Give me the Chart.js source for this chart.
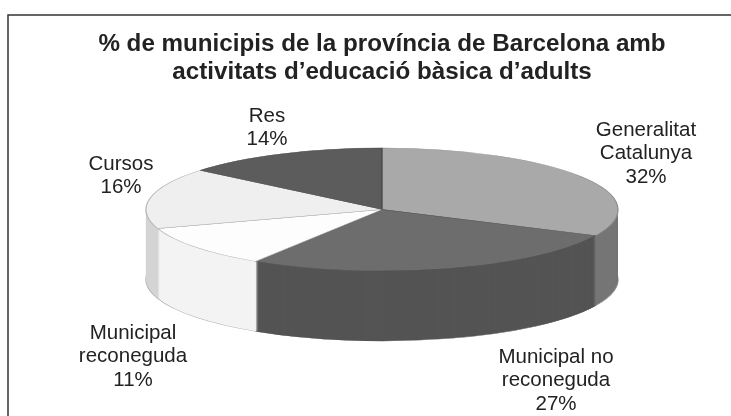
<!DOCTYPE html>
<html>
<head>
<meta charset="utf-8">
<style>
  html, body { margin: 0; padding: 0; background: #fff; }
  #wrap { position: relative; width: 731px; height: 416px; overflow: hidden; }
  /* the source is a soft scan */
  canvas { filter: blur(0.45px); }
</style>
</head>
<body>
<div id="wrap"><canvas id="chart" width="731" height="416"></canvas></div>
<script src="https://cdn.jsdelivr.net/npm/chart.js@4"></script>
<script>
const categories = ['Generalitat Catalunya', 'Municipal no reconeguda', 'Municipal reconeguda', 'Cursos', 'Res'];
const values = [32, 27, 11, 16, 14];
const topColors = ['#a9a9a9', '#6d6d6d', '#fdfdfd', '#efefef', '#5c5c5c'];
const sideColors = ['#757575', '#545454', '#f3f3f3', '#d4d4d4', '#4a4a4a'];
const edgeColors = ['#8f8f8f', '#4f4f4f', '#a8a8a8', '#b4b4b4', '#474747'];
const labelLines = [['Generalitat', 'Catalunya'], ['Municipal no', 'reconeguda'], ['Municipal', 'reconeguda'], ['Cursos'], ['Res']];
const labelAnchors = [[646, 130], [556, 357], [133, 333], [121, 164], [267, 116]];

const RX = 236, RY = 61.5, DEPTH = 70, CY = 209.5;

// squash the pie into an ellipse and stack it to get the 3d look
const pie3d = {
  id: 'pie3d',
  beforeDatasetsDraw(chart) {
    const ctx = chart.ctx;
    const arcs = chart.getDatasetMeta(0).data;
    const layer = (dy, colors, border) => {
      ctx.save();
      ctx.translate(0, CY + dy);
      ctx.scale(1, RY / RX);
      ctx.translate(0, -arcs[0].y);
      arcs.forEach((arc, i) => {
        const saved = arc.options;
        arc.options = {...saved, backgroundColor: colors[i], borderWidth: border ? 1.2 : 0, borderColor: edgeColors[i]};
        arc.draw(ctx);
        arc.options = saved;
      });
      ctx.restore();
    };
    layer(DEPTH, sideColors, true);
    for (let d = DEPTH - 1; d > 0; d--) layer(d, sideColors, false);
    layer(0, topColors, true);
    return false;
  }
};

const sliceLabels = {
  id: 'sliceLabels',
  afterDraw(chart) {
    const ctx = chart.ctx;
    ctx.save();
    ctx.font = '20.5px "Liberation Sans"';
    ctx.fillStyle = '#222';
    ctx.textAlign = 'center';
    ctx.textBaseline = 'middle';
    labelLines.forEach((lines, i) => {
      const [x, y] = labelAnchors[i];
      [...lines, values[i] + '%'].forEach((t, k) => ctx.fillText(t, x, y + k * 23.5));
    });
    // frame, only left and top
    ctx.strokeStyle = '#333';
    ctx.lineWidth = 1.5;
    ctx.beginPath();
    ctx.moveTo(8, 416);
    ctx.lineTo(8, 15);
    ctx.lineTo(731, 15);
    ctx.stroke();
    ctx.restore();
  }
};

new Chart(document.getElementById('chart'), {
  type: 'pie',
  data: {
    labels: categories,
    datasets: [{ data: values, backgroundColor: topColors, borderWidth: 0 }]
  },
  options: {
    responsive: false,
    animation: false,
    radius: RX,
    layout: { padding: { left: 33 } },
    plugins: {
      legend: { display: false },
      tooltip: { enabled: false },
      title: {
        display: true,
        text: ['% de municipis de la província de Barcelona amb', 'activitats d’educació bàsica d’adults'],
        color: '#222',
        font: { family: '"Liberation Sans"', size: 24.2, weight: 'bold', lineHeight: 1.16 },
        padding: { top: 30, bottom: 0 }
      }
    }
  },
  plugins: [pie3d, sliceLabels]
});
</script>
</body>
</html>
